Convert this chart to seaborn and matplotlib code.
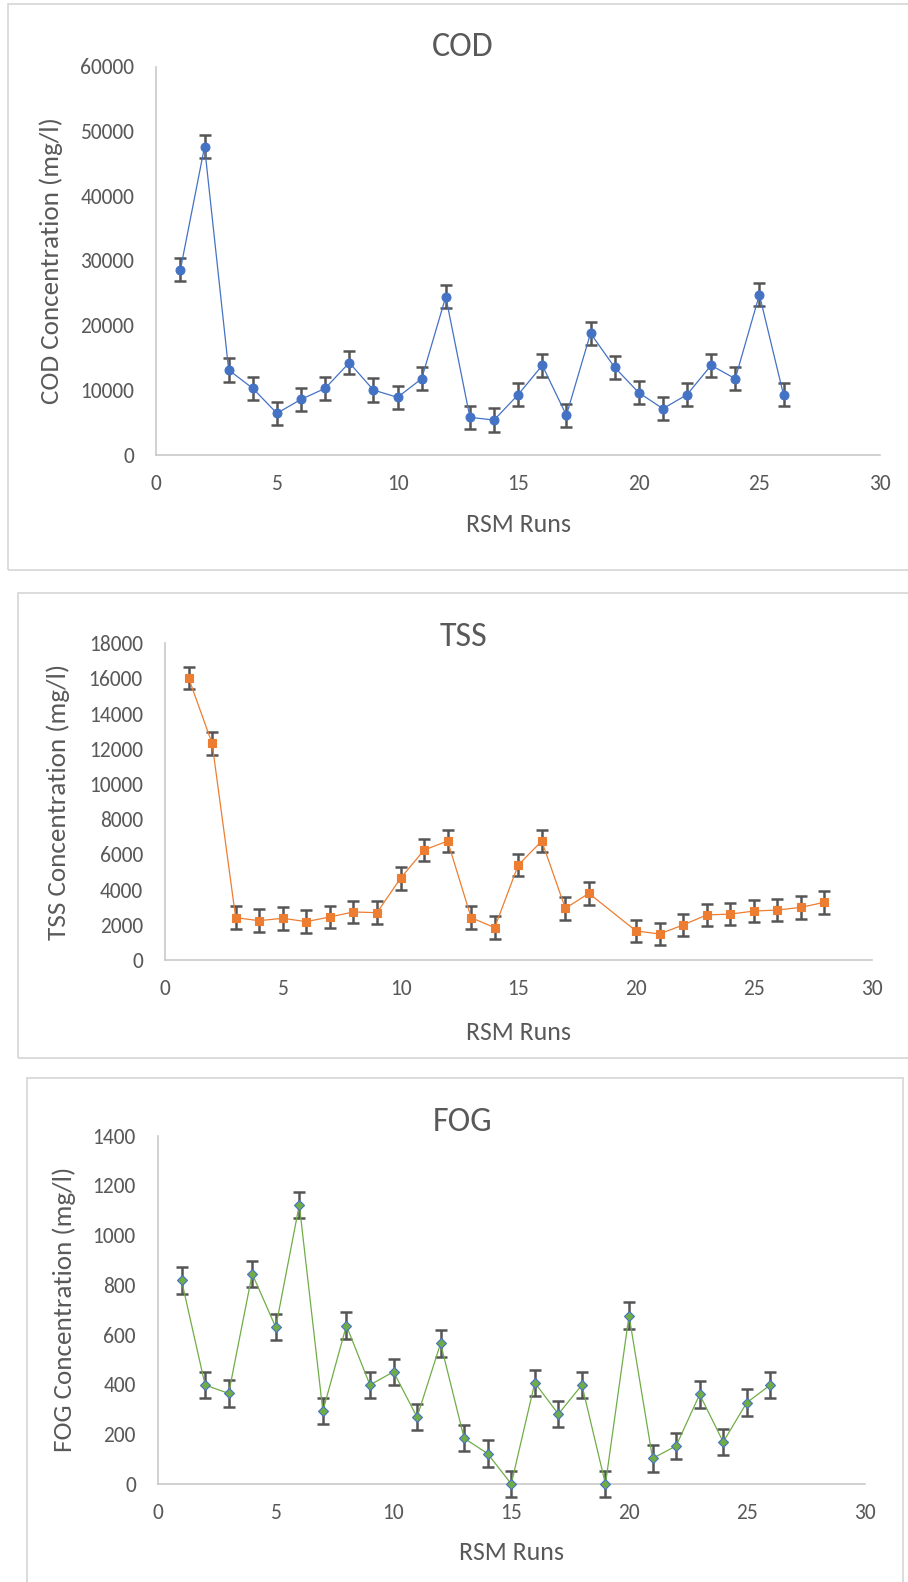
import numpy as np
import pandas as pd
import matplotlib
matplotlib.use("Agg")
import matplotlib.pyplot as plt
from matplotlib.patches import Rectangle
import seaborn as sns

# ---------------- data ----------------
cod_runs = list(range(1, 27))
cod_values = [28600, 47600, 13070, 10230, 6370, 8530, 10230, 14200, 9970, 8840,
              11720, 24400, 5750, 5330, 9250, 13790, 6060, 18740, 13480, 9560,
              7090, 9250, 13790, 11720, 24710, 9250]
COD_ERR = 1800

tss_runs = [1, 2, 3, 4, 5, 6, 7, 8, 9, 10, 11, 12, 13, 14, 15, 16, 17, 18,
            20, 21, 22, 23, 24, 25, 26, 27, 28]
tss_values = [16040, 12310, 2405, 2235, 2370, 2180, 2445, 2730, 2690, 4640,
              6250, 6760, 2405, 1840, 5400, 6760, 2935, 3790,
              1650, 1480, 1990, 2560, 2610, 2780, 2840, 2990, 3280]
TSS_ERR = 640

fog_runs = list(range(1, 27))
fog_values = [818, 398, 364, 845, 630, 1122, 293, 637, 398, 451,
              269, 565, 184, 122, 0, 407, 281, 398, 0, 677,
              103, 153, 360, 169, 327, 398]
FOG_ERR = 53

x_ticks = [0, 5, 10, 15, 20, 25, 30]
cod_yticks = [0, 10000, 20000, 30000, 40000, 50000, 60000]
tss_yticks = [0, 2000, 4000, 6000, 8000, 10000, 12000, 14000, 16000, 18000]
fog_yticks = [0, 200, 400, 600, 800, 1000, 1200, 1400]

titles = ["COD", "TSS", "FOG"]
ylabels = ["COD Concentration (mg/l)", "TSS Concentration (mg/l)", "FOG Concentration (mg/l)"]
xlabel = "RSM Runs"

# ---------------- style ----------------
sns.set_theme(style="white")
from matplotlib import font_manager
avail = {f.name for f in font_manager.fontManager.ttflist}
fams = [f for f in ["Carlito", "Lato", "DejaVu Sans"] if f in avail]
plt.rcParams["font.family"] = fams

W, H = 908, 1582
fig = plt.figure(figsize=(W / 100, H / 100), dpi=100)
fig.patch.set_facecolor("white")

TXT = "#595959"
AXC = "#C9C9C9"
ERRC = "#555555"

def fx(px):
    return px / W

def fy(py):
    return 1 - py / H

# panel frames (pixel coords: x0, y0, x1, y1)
frames = [(8, 4, 920, 570), (18, 593, 920, 1058), (27, 1078, 903, 1600)]
for (x0, y0, x1, y1) in frames:
    fig.patches.append(Rectangle((fx(x0), fy(y1)), fx(x1) - fx(x0), fy(y0) - fy(y1),
                                 transform=fig.transFigure, fill=False,
                                 edgecolor="#D9D9D9", linewidth=1.3, zorder=0))

# axes pixel boxes: (x_left, x_right, y_bottom(0), y_top(max))
boxes = [(156.3, 880, 454.5, 66.5), (165, 871.5, 960, 643.3), (158, 864.5, 1484, 1135.7)]
ylims = [60000, 18000, 1400]
ytick_sets = [cod_yticks, tss_yticks, fog_yticks]
datas = [(cod_runs, cod_values, COD_ERR), (tss_runs, tss_values, TSS_ERR), (fog_runs, fog_values, FOG_ERR)]
line_colors = ["#4472C4", "#ED7D31", "#70AD47"]
marker_faces = ["#4472C4", "#ED7D31", "#70AD47"]
marker_edges = ["#4472C4", "#ED7D31", "#4472C4"]
markers = ["o", "s", "D"]
msizes = [6.4, 6.4, 5.2]
title_y = [47, 637, 1122]
ylabel_x = [51, 58, 64]
xlabel_y = [525, 1032, 1553]

for i in range(3):
    xl, xr, yb, yt = boxes[i]
    ax = fig.add_axes([fx(xl), fy(yb), fx(xr) - fx(xl), fy(yt) - fy(yb)])
    runs, vals, err = datas[i]
    df = pd.DataFrame({"run": runs, "value": vals})
    ax.errorbar(df["run"], df["value"], yerr=err, fmt="none", ecolor=ERRC,
                elinewidth=1.8, capsize=4.5, capthick=1.8, zorder=2, clip_on=False)
    sns.lineplot(data=df, x="run", y="value", ax=ax, color=line_colors[i],
                 linewidth=0.9, marker=markers[i], markersize=msizes[i],
                 markerfacecolor=marker_faces[i], markeredgecolor=marker_edges[i],
                 markeredgewidth=0.8, zorder=3, clip_on=False)
    ax.set_xlim(0, 30)
    ax.set_ylim(0, ylims[i])
    ax.set_xticks(x_ticks)
    ax.set_yticks(ytick_sets[i])
    ax.set_xticklabels([str(t) for t in x_ticks])
    ax.set_yticklabels([str(t) for t in ytick_sets[i]])
    ax.tick_params(axis="x", length=0, pad=14, labelsize=15.5, labelcolor=TXT)
    ax.tick_params(axis="y", length=0, pad=16, labelsize=15.5, labelcolor=TXT)
    for s in ["top", "right"]:
        ax.spines[s].set_visible(False)
    for s in ["left", "bottom"]:
        ax.spines[s].set_color(AXC)
        ax.spines[s].set_linewidth(1.2)
    ax.set_xlabel("")
    ax.set_ylabel("")
    ax.set_facecolor("none")
    ax.grid(False)

    fig.text(fx(463), fy(title_y[i]), titles[i], ha="center", va="center",
             fontsize=24.5, color=TXT)
    fig.text(fx(ylabel_x[i]), fy((yb + yt) / 2), ylabels[i], ha="center", va="center",
             rotation=90, fontsize=19.5, color=TXT)
    fig.text(fx((xl + xr) / 2), fy(xlabel_y[i]), xlabel, ha="center", va="center",
             fontsize=18.5, color=TXT)

fig.savefig("out.png", dpi=100, facecolor="white")
